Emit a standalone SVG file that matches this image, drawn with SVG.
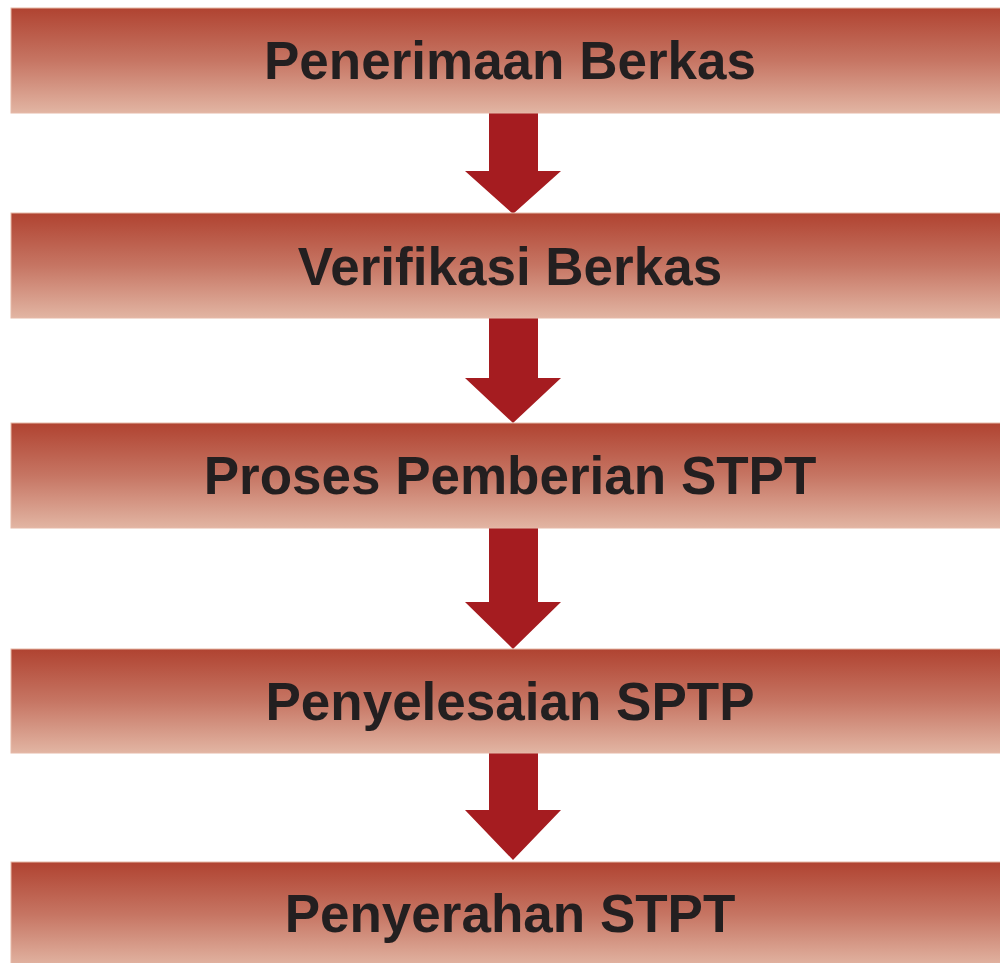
<svg xmlns="http://www.w3.org/2000/svg" width="1000" height="963" viewBox="0 0 1000 963">
<defs>
<linearGradient id="g" x1="0" y1="0" x2="0" y2="1">
<stop offset="0" stop-color="#b04331"/>
<stop offset="0.5" stop-color="#c67563"/>
<stop offset="1" stop-color="#e2b5a3"/>
</linearGradient>
<style>
.box{fill:url(#g);stroke:#e6b9a8;stroke-width:1}
.lbl{font-family:"Liberation Sans",Arial,sans-serif;font-weight:bold;font-size:53px;fill:#231f20;text-anchor:middle}
.arr{fill:#a51c20}
</style>
</defs>
<rect width="1000" height="963" fill="#ffffff"/>
<g id="connectors">
<polygon class="arr" points="489,113 538,113 538,171 561,171 513,214 465,171 489,171"/>
<polygon class="arr" points="489,318 538,318 538,378 561,378 513,423 465,378 489,378"/>
<polygon class="arr" points="489,528 538,528 538,602 561,602 513,649 465,602 489,602"/>
<polygon class="arr" points="489,753 538,753 538,810 561,810 513,860 465,810 489,810"/>
</g>
<g id="n1"><rect class="box" x="11" y="8" width="990" height="105"/><text class="lbl" x="510" y="79">Penerimaan Berkas</text></g>
<g id="n2"><rect class="box" x="11" y="213" width="990" height="105"/><text class="lbl" x="510" y="285">Verifikasi Berkas</text></g>
<g id="n3"><rect class="box" x="11" y="423" width="990" height="105"/><text class="lbl" x="510" y="494">Proses Pemberian STPT</text></g>
<g id="n4"><rect class="box" x="11" y="649" width="990" height="104"/><text class="lbl" x="510" y="720">Penyelesaian SPTP</text></g>
<g id="n5"><rect class="box" x="11" y="862" width="990" height="105"/><text class="lbl" x="510" y="932">Penyerahan STPT</text></g>
</svg>
